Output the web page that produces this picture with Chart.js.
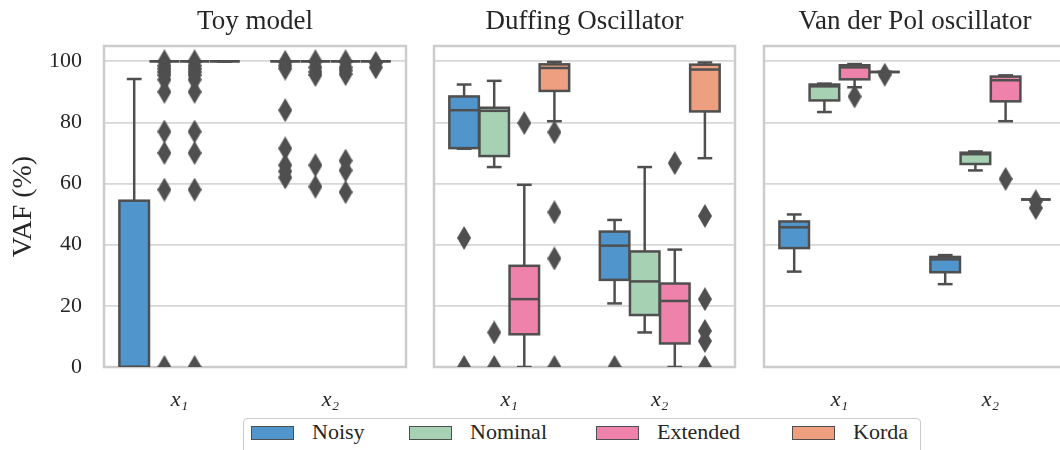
<!DOCTYPE html>
<html>
<head>
<meta charset="utf-8">
<script src="https://cdn.jsdelivr.net/npm/chart.js@4.4.1/dist/chart.umd.min.js"></script>
<style>
html,body{margin:0;padding:0;background:#ffffff;}
#wrap{position:relative;width:1060px;height:450px;overflow:hidden;background:#ffffff;}
#wrap canvas{position:absolute;top:0;}
#legend{position:absolute;left:243px;top:418px;width:678px;height:44px;border:1.5px solid #cccccc;border-radius:4px;background:#ffffff;box-sizing:border-box;}
.patch{position:absolute;top:6.5px;width:41px;height:12px;border:1.5px solid #4f4f4f;}
.ltext{position:absolute;top:2px;font-family:"Liberation Serif",serif;font-size:22px;line-height:22px;color:#262626;white-space:nowrap;}
</style>
</head>
<body>
<div id="wrap">
  <canvas id="c1" width="420" height="415" style="left:0px"></canvas>
  <canvas id="c2" width="330" height="415" style="left:420px"></canvas>
  <canvas id="c3" width="330" height="415" style="left:750px"></canvas>
  <div id="legend"></div>
</div>
<script>
// ---------------- data ----------------
const categories = ['x\u2081', 'x\u2082'];
const hues = ['Noisy', 'Nominal', 'Extended', 'Korda'];
const panelTitles = ['Toy model', 'Duffing Oscillator', 'Van der Pol oscillator'];
const yTicks = [0, 20, 40, 60, 80, 100];

// each entry per category: [lower whisker, Q1, median, Q3, upper whisker]
const toyNoisy    = [[0, 0, 0, 54.4, 94.2], [100, 100, 100, 100, 100]];
const toyNominal  = [[100, 100, 100, 100, 100], [100, 100, 100, 100, 100]];
const toyExtended = [[100, 100, 100, 100, 100], [100, 100, 100, 100, 100]];
const toyKorda    = [[100, 100, 100, 100, 100], [100, 100, 100, 100, 100]];
const toyNoisyOut    = [[], [99.8, 98.6, 97.6, 84.0, 71.5, 66.0, 64.0, 62.0]];
const toyNominalOut  = [[100, 98.5, 97.5, 96.5, 95.5, 94.0, 90.0, 77.0, 70.0, 58.0, 0], [100, 98.0, 96.5, 95.5, 66.0, 59.0]];
const toyExtendedOut = [[100, 98.5, 97.5, 96.5, 95.5, 94.0, 90.0, 77.0, 70.0, 58.0, 0], [100, 98.0, 97.0, 95.8, 67.5, 64.3, 57.2]];
const toyKordaOut    = [[], [99.5, 98.0]];

const dufNoisy    = [[71.4, 71.6, 84.0, 88.5, 92.4], [20.8, 28.5, 39.7, 44.3, 48.1]];
const dufNominal  = [[65.4, 69.0, 83.8, 84.8, 93.6], [11.3, 17.0, 28.0, 37.8, 65.4]];
const dufExtended = [[0, 10.7, 22.2, 33.1, 59.6], [0, 7.7, 21.6, 27.3, 38.4]];
const dufKorda    = [[80.4, 90.3, 97.8, 99.0, 99.8], [68.3, 83.6, 97.3, 98.9, 99.6]];
const dufNoisyOut    = [[42.2, 0], [0]];
const dufNominalOut  = [[11.3, 0], []];
const dufExtendedOut = [[79.8], [66.7]];
const dufKordaOut    = [[76.8, 50.6, 35.5, 0], [49.4, 22.2, 11.8, 8.5, 0]];

const vdpNoisy    = [[31.2, 38.9, 45.7, 47.6, 49.9], [27.1, 31.0, 35.2, 36.0, 36.6]];
const vdpNominal  = [[83.4, 87.2, 91.8, 92.4, 92.7], [64.3, 66.4, 69.6, 70.1, 70.5]];
const vdpExtended = [[91.5, 94.1, 98.0, 98.7, 99.1], [80.4, 86.9, 93.8, 95.0, 95.4]];
const vdpKorda    = [[96.5, 96.5, 96.5, 96.5, 96.5], [54.8, 54.8, 54.8, 54.8, 54.8]];
const vdpNoisyOut    = [[], []];
const vdpNominalOut  = [[], []];
const vdpExtendedOut = [[88.5], [61.5]];
const vdpKordaOut    = [[95.6], [54.2, 52.0]];

// ---------------- styles ----------------
const hueColors = ['#5096cd', '#a6d1b3', '#ee82aa', '#ee9f80'];
const LINE = '#4f4f4f';
const TEXT = '#262626';
const GRID = '#d7d7d7';
const FRAME = '#cccccc';
const SERIF = "'Liberation Serif', 'Times New Roman', serif";
const DODGE = 0.2;   // seaborn hue dodge width per box (category units)

// thin diamond marker
const diamond = document.createElement('canvas');
diamond.width = 14; diamond.height = 24;
(function () {
  const dc = diamond.getContext('2d');
  dc.fillStyle = LINE;
  dc.beginPath();
  dc.moveTo(7, 0); dc.lineTo(14, 12); dc.lineTo(7, 24); dc.lineTo(0, 12);
  dc.closePath(); dc.fill();
})();

const boxPlugin = {
  id: 'boxdraw',
  beforeDatasetsDraw(chart) {
    const a = chart.chartArea, ctx = chart.ctx;
    ctx.save();
    ctx.strokeStyle = FRAME; ctx.lineWidth = 2.5;
    ctx.strokeRect(a.left, a.top, a.right - a.left, a.bottom - a.top);
    ctx.restore();
  },
  afterDatasetDraw(chart, args) {
    const meta = args.meta;
    if (meta.type !== 'bar') return;
    const stats = chart.data.datasets[args.index].stats;
    const ys = chart.scales.y, a = chart.chartArea, ctx = chart.ctx;
    const py = v => ys.getPixelForValue(v);
    ctx.save();
    ctx.beginPath(); ctx.rect(a.left, a.top, a.right - a.left, a.bottom - a.top); ctx.clip();
    ctx.strokeStyle = LINE; ctx.lineWidth = 2.5; ctx.lineCap = 'butt'; ctx.lineJoin = 'miter';
    const seg = (x1, y1, x2, y2) => { ctx.beginPath(); ctx.moveTo(x1, y1); ctx.lineTo(x2, y2); ctx.stroke(); };
    meta.data.forEach((bar, i) => {
      const s = stats[i];
      const x = bar.x, w = bar.width;
      seg(x, py(s[3]), x, py(s[4]));
      seg(x, py(s[1]), x, py(s[0]));
      seg(x - w / 4, py(s[4]), x + w / 4, py(s[4]));
      seg(x - w / 4, py(s[0]), x + w / 4, py(s[0]));
      ctx.strokeRect(x - w / 2, py(s[3]), w, py(s[1]) - py(s[3]));
      seg(x - w / 2, py(s[2]), x + w / 2, py(s[2]));
    });
    ctx.restore();
  }
};

function makeChart(id, title, stats, outs, showY, padL, padR) {
  const datasets = [];
  hues.forEach((h, hi) => {
    datasets.push({
      type: 'bar', label: h,
      data: stats[hi].map((s, ci) => ({ x: ci + (hi - 1.5) * DODGE, y: [s[1], s[3]] })),
      stats: stats[hi],
      backgroundColor: hueColors[hi], borderWidth: 0,
      grouped: false, categoryPercentage: 1, barPercentage: 0.98, order: 2
    });
  });
  hues.forEach((h, hi) => {
    const pts = [];
    outs[hi].forEach((arr, ci) => arr.forEach(v => pts.push({ x: ci + (hi - 1.5) * DODGE, y: v })));
    datasets.push({
      type: 'scatter', label: h + ' outliers', grouped: false,
      data: pts, pointStyle: diamond, pointRadius: 7, order: 1, clip: 0
    });
  });
  return new Chart(document.getElementById(id), {
    type: 'bar',
    data: { datasets },
    plugins: [boxPlugin],
    options: {
      responsive: false, animation: false, events: [],
      layout: { padding: { left: padL, right: padR, top: 0, bottom: 0 } },
      plugins: {
        legend: { display: false },
        tooltip: { enabled: false },
        title: {
          display: true, text: title, fullSize: false, color: TEXT,
          font: { family: SERIF, size: 27, weight: 'normal' },
          padding: { top: 6, bottom: 7.6 }
        }
      },
      scales: {
        x: {
          type: 'linear', min: -0.5, max: 1.5, offset: false,
          afterBuildTicks: s => { s.ticks = categories.map((c, i) => ({ value: i })); },
          grid: { display: false }, border: { display: false },
          ticks: {
            color: TEXT, padding: 12, autoSkip: false, maxRotation: 0,
            font: { family: SERIF, size: 22, style: 'italic' },
            callback: v => categories[Math.round(v)]
          },
          afterFit: s => { s.height = 48; }
        },
        y: {
          min: 0, max: 105,
          afterBuildTicks: s => { s.ticks = yTicks.map(v => ({ value: v })); },
          grid: { color: GRID, lineWidth: 1.8, drawTicks: false },
          border: { display: false },
          ticks: { display: showY, color: TEXT, padding: 22, font: { family: SERIF, size: 22 } },
          title: {
            display: showY, text: 'VAF (%)', color: TEXT,
            font: { family: SERIF, size: 28 }, padding: { top: 7, bottom: 0 }
          },
          afterFit: s => { s.width = showY ? 104 : 0; }
        }
      }
    }
  });
}

makeChart('c1', panelTitles[0],
  [toyNoisy, toyNominal, toyExtended, toyKorda],
  [toyNoisyOut, toyNominalOut, toyExtendedOut, toyKordaOut], true, 0, 14);
makeChart('c2', panelTitles[1],
  [dufNoisy, dufNominal, dufExtended, dufKorda],
  [dufNoisyOut, dufNominalOut, dufExtendedOut, dufKordaOut], false, 14, 15);
makeChart('c3', panelTitles[2],
  [vdpNoisy, vdpNominal, vdpExtended, vdpKorda],
  [vdpNoisyOut, vdpNominalOut, vdpExtendedOut, vdpKordaOut], false, 14, 14);

// legend
const legendSlots = [7, 165, 352, 548];
const legend = document.getElementById('legend');
hues.forEach((h, hi) => {
  const p = document.createElement('div');
  p.className = 'patch';
  p.style.left = legendSlots[hi] + 'px';
  p.style.background = hueColors[hi];
  legend.appendChild(p);
  const t = document.createElement('div');
  t.className = 'ltext';
  t.style.left = (legendSlots[hi] + 61) + 'px';
  t.style.fontFamily = SERIF;
  t.textContent = h;
  legend.appendChild(t);
});
</script>
</body>
</html>
